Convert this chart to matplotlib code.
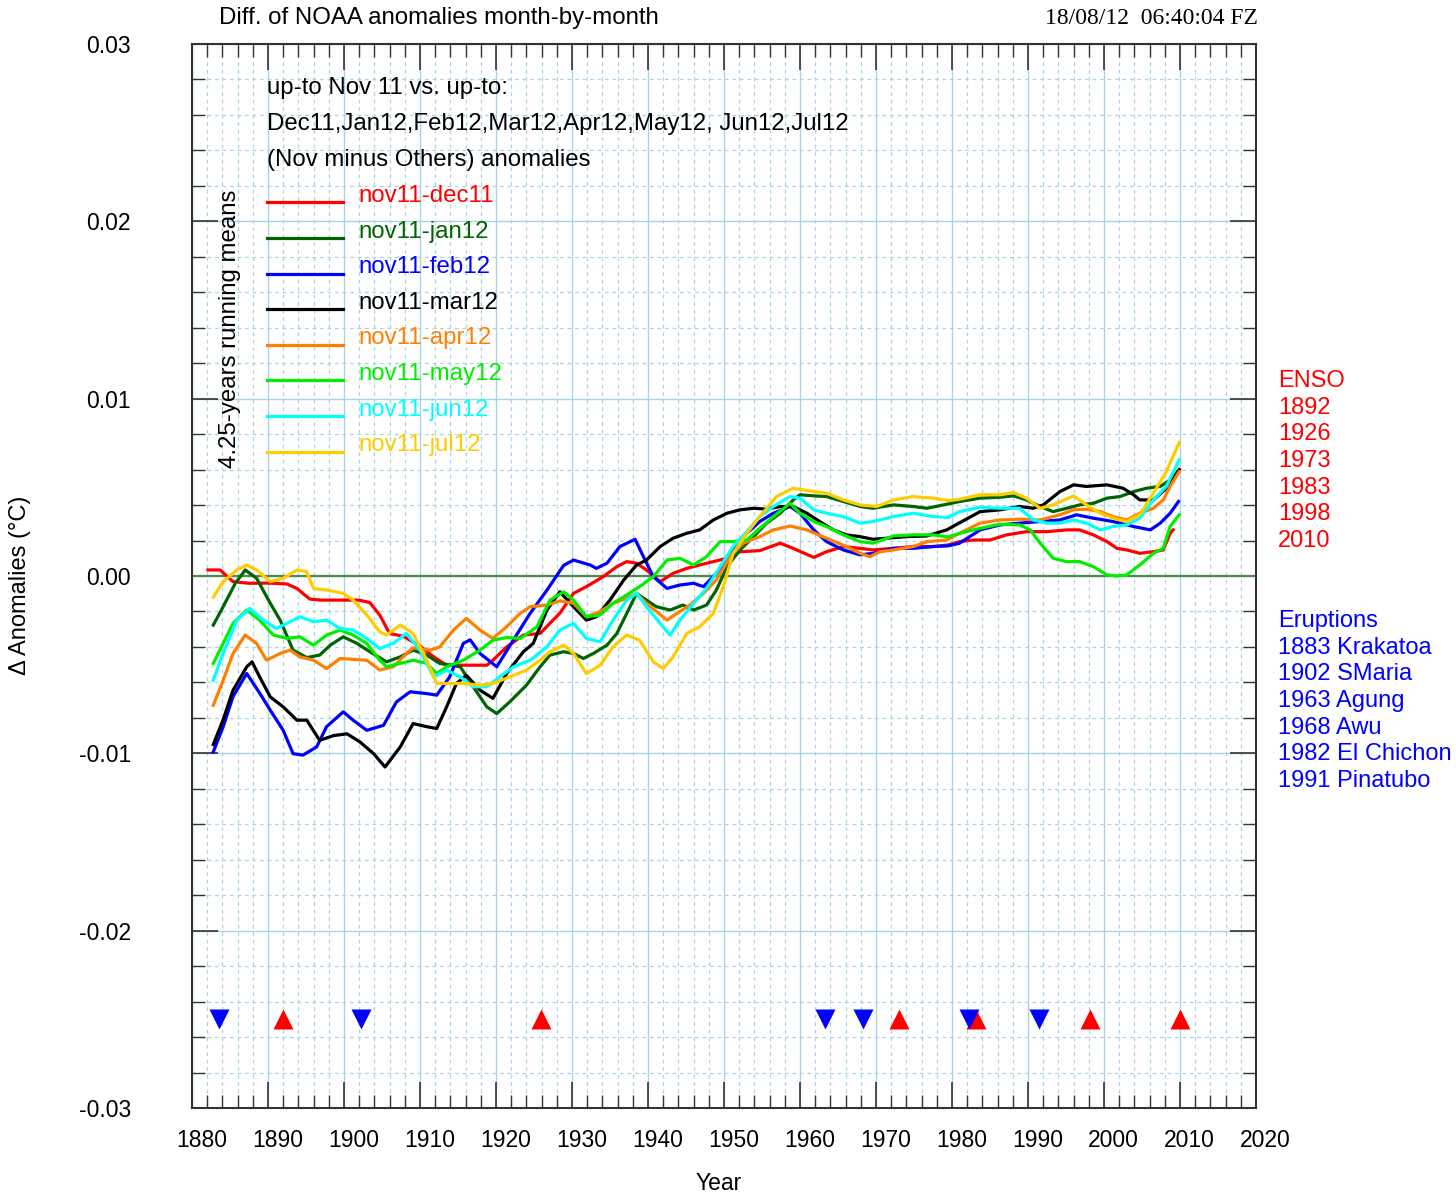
import numpy as np
import matplotlib
matplotlib.use('Agg')
import matplotlib.pyplot as plt
import matplotlib.transforms as mtransforms
from matplotlib.ticker import MultipleLocator

plt.rcParams['font.family'] = ['Liberation Sans', 'DejaVu Sans']

# values, in units of 0.001 degC
dec11_yr = [1882.1, 1883.7, 1885.4, 1887.5, 1890.0, 1892.5, 1893.8, 1895.5, 1897.0, 1902.0, 1903.4, 1904.7,
            1906.0, 1907.8, 1910.0, 1911.8, 1913.5, 1918.8, 1919.6, 1921.4, 1923.6, 1925.8, 1927.5, 1928.4,
            1930.2, 1931.9, 1934.1, 1935.9, 1937.2, 1938.5, 1939.8, 1941.6, 1943.3, 1945.1, 1946.8, 1948.6,
            1950.4, 1952.1, 1954.7, 1957.4, 1959.1, 1961.8, 1963.5, 1965.7, 1967.9, 1969.6, 1972.3, 1974.9,
            1977.5, 1979.5, 1981.0, 1982.8, 1985.0, 1987.2, 1989.8, 1992.5, 1995.1, 1996.8, 1998.6, 2000.4,
            2001.7, 2003.0, 2004.7, 2006.5, 2007.8, 2008.7, 2009.1]
dec11_val = [0.34, 0.34, -0.32, -0.41, -0.40, -0.45, -0.7, -1.3, -1.36, -1.36, -1.5, -2.2,
             -3.24, -3.4, -3.95, -4.56, -5.03, -5.03, -4.75, -4.0, -3.33, -3.24, -2.49, -2.1,
             -0.98, -0.6, -0.04, 0.53, 0.81, 0.72, 0.34, -0.32, 0.15, 0.43, 0.62, 0.81,
             1.0, 1.37, 1.43, 1.85, 1.56, 1.05, 1.37, 1.66, 1.56, 1.47, 1.56, 1.66,
             1.66, 1.75, 1.94, 2.03, 2.03, 2.32, 2.5, 2.5, 2.6, 2.6, 2.32, 1.94,
             1.56, 1.47, 1.28, 1.37, 1.47, 2.41, 2.6]

jan12_yr = [1882.8, 1884.1, 1885.7, 1887.0, 1888.5, 1890.3, 1891.6, 1893.3, 1895.1, 1896.8, 1898.2, 1899.9,
            1901.7, 1903.4, 1905.6, 1907.4, 1909.1, 1910.9, 1912.6, 1915.3, 1917.0, 1918.8, 1920.1, 1921.8,
            1924.0, 1925.8, 1927.1, 1928.9, 1930.2, 1931.5, 1932.8, 1934.6, 1935.9, 1937.2, 1938.5, 1939.8,
            1941.1, 1942.9, 1944.6, 1946.0, 1947.7, 1949.0, 1950.4, 1952.1, 1953.9, 1955.6, 1957.4, 1959.1,
            1960.0, 1961.8, 1963.5, 1965.7, 1967.9, 1969.6, 1972.3, 1974.9, 1976.7, 1978.9, 1981.0, 1983.7,
            1986.3, 1988.1, 1989.8, 1991.6, 1993.3, 1995.1, 1996.8, 1998.6, 2000.4, 2002.1, 2003.9, 2005.6,
            2007.4, 2008.7, 2009.9]
jan12_val = [-2.77, -1.73, -0.41, 0.34, -0.13, -1.54, -2.49, -4.18, -4.6, -4.46, -3.9, -3.43,
             -3.8, -4.27, -4.84, -4.56, -4.18, -4.46, -4.93, -5.12, -6.25, -7.38, -7.76, -7.1,
             -6.16, -5.12, -4.46, -4.27, -4.37, -4.65, -4.37, -3.9, -3.24, -2.11, -0.98, -1.36,
             -1.73, -1.92, -1.64, -1.92, -1.64, -0.79, 0.53, 1.47, 2.22, 2.98, 3.54, 4.29,
             4.58, 4.52, 4.48, 4.2, 3.92, 3.82, 4.01, 3.92, 3.82, 4.01, 4.2, 4.39,
             4.44, 4.52, 4.29, 3.92, 3.63, 3.82, 4.01, 4.1, 4.39, 4.48, 4.76, 4.95,
             5.05, 5.42, 5.99]

feb12_yr = [1882.8, 1884.1, 1885.4, 1887.2, 1888.9, 1890.3, 1892.0, 1893.3, 1894.6, 1896.4, 1897.7, 1899.9,
            1901.2, 1903.0, 1905.2, 1906.9, 1908.7, 1910.9, 1912.2, 1913.9, 1915.7, 1916.6, 1917.9, 1920.1,
            1922.3, 1924.5, 1926.7, 1928.9, 1930.2, 1932.4, 1933.2, 1934.6, 1936.3, 1938.3, 1939.4, 1940.7,
            1942.5, 1944.2, 1946.0, 1947.3, 1949.0, 1950.8, 1953.0, 1954.7, 1956.5, 1958.7, 1960.0, 1961.8,
            1963.5, 1965.7, 1967.9, 1969.6, 1972.3, 1974.9, 1977.5, 1979.5, 1981.0, 1983.7, 1986.3, 1988.9,
            1991.6, 1994.2, 1996.4, 1998.6, 2001.2, 2003.9, 2006.1, 2007.4, 2008.7, 2009.8]
feb12_val = [-9.92, -8.5, -6.8, -5.5, -6.6, -7.57, -8.7, -10.02, -10.1, -9.64, -8.5, -7.66,
             -8.13, -8.7, -8.42, -7.1, -6.53, -6.63, -6.72, -5.69, -3.8, -3.6, -4.37, -5.12,
             -3.6, -2.1, -0.8, 0.6, 0.9, 0.62, 0.43, 0.72, 1.66, 2.07, 1.09, -0.04,
             -0.7, -0.51, -0.41, -0.6, 0.15, 1.19, 2.41, 3.07, 3.54, 3.92, 3.54, 2.6,
             1.94, 1.47, 1.19, 1.28, 1.56, 1.56, 1.66, 1.7, 1.85, 2.6, 2.88, 2.98,
             3.07, 3.16, 3.45, 3.26, 3.07, 2.79, 2.6, 2.98, 3.54, 4.2]

mar12_yr = [1882.8, 1884.1, 1885.4, 1887.2, 1887.9, 1888.9, 1890.3, 1892.0, 1893.8, 1895.1, 1896.8, 1898.6,
            1900.4, 1902.1, 1903.9, 1905.4, 1907.4, 1909.1, 1910.9, 1912.2, 1913.5, 1914.8, 1916.1, 1917.9,
            1919.6, 1921.4, 1923.6, 1924.9, 1926.7, 1928.4, 1930.2, 1931.9, 1933.2, 1935.0, 1936.8, 1938.5,
            1939.8, 1941.6, 1943.3, 1945.1, 1946.8, 1948.6, 1950.4, 1952.1, 1953.9, 1955.6, 1957.4, 1959.1,
            1960.9, 1962.6, 1964.4, 1966.1, 1967.9, 1969.6, 1971.4, 1974.0, 1976.7, 1979.3, 1981.0, 1983.7,
            1986.3, 1988.9, 1990.7, 1992.0, 1994.2, 1996.0, 1997.7, 2000.4, 2002.5, 2003.9, 2004.7, 2006.5,
            2008.2, 2009.9]
mar12_val = [-9.5, -8.1, -6.44, -5.12, -4.84, -5.69, -6.82, -7.38, -8.13, -8.13, -9.27, -9.0,
             -8.9, -9.36, -10.02, -10.77, -9.64, -8.32, -8.5, -8.6, -7.38, -6.06, -5.6, -6.44,
             -6.9, -5.5, -4.27, -3.8, -1.92, -0.89, -1.73, -2.49, -2.3, -1.36, -0.23, 0.62,
             0.9, 1.66, 2.13, 2.41, 2.6, 3.16, 3.54, 3.73, 3.82, 3.77, 3.92, 3.92,
             3.54, 3.07, 2.6, 2.32, 2.22, 2.07, 2.13, 2.22, 2.26, 2.6, 3.0, 3.63,
             3.73, 3.92, 3.82, 4.01, 4.76, 5.14, 5.05, 5.14, 4.95, 4.58, 4.29, 4.29,
             4.95, 5.99]

apr12_yr = [1882.8, 1884.1, 1885.4, 1887.0, 1888.5, 1889.8, 1891.6, 1892.9, 1894.2, 1896.0, 1897.7, 1899.5,
            1901.2, 1903.0, 1904.7, 1906.5, 1908.2, 1909.1, 1911.3, 1912.6, 1914.4, 1916.1, 1917.9, 1919.6,
            1921.4, 1923.2, 1924.5, 1926.7, 1928.4, 1930.2, 1931.9, 1933.7, 1935.4, 1937.2, 1938.5, 1939.8,
            1941.1, 1942.5, 1943.8, 1945.5, 1947.3, 1949.0, 1950.8, 1952.5, 1954.7, 1956.5, 1958.7, 1960.9,
            1963.5, 1966.1, 1967.9, 1969.2, 1970.5, 1972.3, 1974.9, 1976.7, 1979.3, 1981.0, 1983.7, 1986.3,
            1988.9, 1991.6, 1994.2, 1996.0, 1997.7, 1999.5, 2001.2, 2003.0, 2004.7, 2006.5, 2007.8, 2008.7,
            2009.9]
apr12_val = [-7.29, -5.88, -4.37, -3.33, -3.8, -4.75, -4.37, -4.18, -4.56, -4.75, -5.22, -4.65,
             -4.7, -4.75, -5.3, -5.12, -4.37, -4.05, -4.18, -4.0, -3.05, -2.39, -3.05, -3.52,
             -2.86, -2.1, -1.73, -1.64, -1.4, -1.54, -2.3, -2.0, -1.54, -1.26, -0.98, -1.54,
             -2.0, -2.49, -2.11, -1.64, -0.98, -0.23, 1.09, 1.85, 2.22, 2.6, 2.82, 2.6,
             2.13, 1.66, 1.28, 1.09, 1.37, 1.47, 1.66, 1.94, 2.03, 2.41, 2.98, 3.16,
             3.2, 3.16, 3.45, 3.73, 3.77, 3.63, 3.35, 3.16, 3.54, 3.82, 4.29, 5.05,
             5.89]

may12_yr = [1882.8, 1884.1, 1885.4, 1887.2, 1888.9, 1890.7, 1892.5, 1894.2, 1896.0, 1897.7, 1899.5, 1901.2,
            1903.0, 1904.7, 1905.6, 1907.4, 1909.1, 1910.9, 1912.2, 1913.5, 1915.7, 1917.9, 1919.6, 1921.4,
            1923.2, 1925.4, 1927.1, 1928.9, 1930.2, 1931.9, 1933.7, 1935.4, 1937.2, 1938.9, 1940.7, 1942.5,
            1944.2, 1946.0, 1947.7, 1949.5, 1951.2, 1953.0, 1954.7, 1956.5, 1958.7, 1960.0, 1961.8, 1963.5,
            1965.7, 1967.9, 1969.6, 1972.3, 1974.9, 1977.5, 1979.5, 1981.0, 1983.7, 1986.3, 1988.9, 1990.3,
            1991.6, 1993.3, 1995.1, 1996.8, 1998.6, 2000.4, 2001.7, 2003.0, 2004.7, 2006.5, 2007.8, 2008.7,
            2009.9]
may12_val = [-4.93, -3.8, -2.67, -1.92, -2.49, -3.33, -3.52, -3.43, -3.9, -3.33, -3.05, -3.33,
             -3.8, -4.75, -5.12, -4.93, -4.75, -4.93, -5.5, -5.12, -4.75, -4.18, -3.62, -3.47,
             -3.52, -2.86, -1.36, -0.89, -1.36, -2.3, -2.2, -1.54, -1.07, -0.6, -0.04, 0.9,
             1.0, 0.62, 1.09, 1.94, 1.94, 2.03, 2.69, 3.35, 4.1, 3.54, 3.07, 2.79,
             2.32, 1.94, 1.85, 2.26, 2.32, 2.32, 2.2, 2.41, 2.69, 2.92, 2.88, 2.6,
             1.85, 1.0, 0.81, 0.81, 0.53, 0.06, 0.0, 0.06, 0.62, 1.28, 1.56, 2.79,
             3.45]

jun12_yr = [1882.8, 1884.1, 1885.9, 1887.6, 1889.4, 1891.1, 1892.5, 1894.2, 1896.0, 1897.7, 1899.5, 1901.2,
            1903.0, 1904.7, 1906.5, 1908.2, 1910.0, 1911.8, 1913.5, 1915.3, 1917.0, 1918.8, 1920.5, 1922.3,
            1924.5, 1926.7, 1928.4, 1930.2, 1931.9, 1933.7, 1935.4, 1937.2, 1938.5, 1939.8, 1941.6, 1942.9,
            1944.2, 1946.0, 1947.7, 1949.5, 1951.2, 1953.0, 1954.7, 1956.5, 1958.7, 1960.0, 1961.8, 1963.5,
            1965.7, 1967.9, 1969.6, 1972.3, 1974.9, 1977.5, 1979.5, 1981.0, 1983.7, 1986.3, 1988.9, 1990.7,
            1992.5, 1994.2, 1996.0, 1997.7, 1999.5, 2001.2, 2003.0, 2004.7, 2006.5, 2008.2, 2009.9]
jun12_val = [-5.88, -4.37, -2.49, -1.83, -2.49, -2.96, -2.67, -2.3, -2.58, -2.49, -2.96, -3.05,
             -3.52, -4.09, -3.8, -3.24, -4.18, -5.69, -5.31, -5.69, -6.25, -6.25, -5.69, -5.12,
             -4.75, -4.0, -3.05, -2.67, -3.52, -3.71, -2.49, -1.36, -0.98, -1.73, -2.67, -3.33,
             -2.49, -1.54, -0.7, 0.53, 1.66, 2.5, 3.35, 3.92, 4.48, 4.39, 3.73, 3.54,
             3.35, 2.98, 3.07, 3.35, 3.54, 3.35, 3.3, 3.63, 3.88, 3.82, 3.82, 3.16,
             2.98, 2.98, 3.16, 2.98, 2.6, 2.79, 2.88, 3.26, 4.29, 5.05, 6.55]

jul12_yr = [1882.8, 1884.1, 1885.9, 1887.2, 1888.5, 1890.3, 1892.0, 1893.8, 1895.1, 1896.0, 1897.7, 1899.9,
            1901.2, 1903.0, 1904.7, 1905.6, 1907.4, 1909.1, 1910.9, 1912.2, 1915.7, 1917.9, 1919.6, 1921.8,
            1924.0, 1925.8, 1927.1, 1928.9, 1930.2, 1931.9, 1933.7, 1935.4, 1937.2, 1938.9, 1940.7, 1942.0,
            1943.3, 1945.1, 1946.8, 1948.6, 1949.9, 1951.2, 1953.0, 1954.7, 1956.9, 1959.1, 1961.8, 1963.5,
            1965.7, 1967.9, 1970.1, 1972.3, 1974.9, 1977.5, 1979.5, 1981.0, 1983.7, 1986.3, 1988.1, 1989.8,
            1991.6, 1993.3, 1996.0, 1997.7, 1999.5, 2001.2, 2003.0, 2004.7, 2006.5, 2008.2, 2009.9]
jul12_val = [-1.2, -0.32, 0.34, 0.62, 0.34, -0.32, -0.13, 0.34, 0.24, -0.7, -0.79, -0.98,
             -1.36, -2.2, -3.14, -3.33, -2.77, -3.24, -4.75, -6.06, -6.06, -6.16, -6.06, -5.69,
             -5.31, -4.75, -4.27, -3.9, -4.37, -5.5, -5.03, -3.99, -3.33, -3.62, -4.84, -5.22,
             -4.56, -3.24, -2.86, -2.11, -0.6, 1.28, 2.41, 3.35, 4.48, 4.95, 4.76, 4.67,
             4.29, 4.01, 3.92, 4.29, 4.48, 4.39, 4.25, 4.33, 4.58, 4.58, 4.71, 4.39,
             3.82, 4.01, 4.52, 4.01, 3.54, 3.26, 3.07, 3.45, 4.67, 5.89, 7.53]

series_names = ['nov11-dec11', 'nov11-jan12', 'nov11-feb12', 'nov11-mar12',
                'nov11-apr12', 'nov11-may12', 'nov11-jun12', 'nov11-jul12']
series_years = [dec11_yr, jan12_yr, feb12_yr, mar12_yr, apr12_yr, may12_yr, jun12_yr, jul12_yr]
series_vals = [dec11_val, jan12_val, feb12_val, mar12_val, apr12_val, may12_val, jun12_val, jul12_val]
colors = ['#ff0000', '#006400', '#0000ff', '#000000', '#ff8000', '#00ee00', '#00ffff', '#ffcc00']

enso_years = [1892.0, 1925.9, 1973.0, 1983.1, 1998.2, 2010.0]
eruption_years = [1883.5, 1902.3, 1963.3, 1968.3, 1982.2, 1991.4]
event_level = -0.025

enso_labels = ['ENSO', '1892', '1926', '1973', '1983', '1998', '2010']
eruption_labels = ['Eruptions', '1883 Krakatoa', '1902 SMaria', '1963 Agung', '1968 Awu',
                   '1982 El Chichon', '1991 Pinatubo']

W, H = 1456, 1198
fig = plt.figure(figsize=(W / 100, H / 100), dpi=100)
ax = fig.add_axes([192 / W, 1 - 1108 / H, 1064 / W, 1064 / H])

ax.set_xlim(1880, 2020)
ax.set_ylim(-0.03, 0.03)
ax.xaxis.set_major_locator(MultipleLocator(10))
ax.xaxis.set_minor_locator(MultipleLocator(2))
ax.yaxis.set_major_locator(MultipleLocator(0.01))
ax.yaxis.set_minor_locator(MultipleLocator(0.002))
ax.yaxis.set_major_formatter(plt.FormatStrFormatter('%.2f'))

grid_col = '#a9d4e4'
ax.grid(which='major', color=grid_col, lw=1.0, ls='-')
ax.grid(which='minor', color=grid_col, lw=0.9, ls=(0, (3, 3)))
ax.set_axisbelow(True)

ax.tick_params(which='both', direction='in', top=True, right=True, colors='#333333',
               labelcolor='black', labelsize=16.5)
ax.tick_params(which='major', length=19, width=1.2)
ax.tick_params(which='minor', length=9.5, width=1.0)
ax.tick_params(axis='y', which='major', pad=44)
ax.tick_params(axis='x', which='major', pad=15)
for lab in ax.get_xticklabels():
    lab.set_transform(lab.get_transform() + mtransforms.ScaledTranslation(0.095, 0, fig.dpi_scale_trans))
for sp in ax.spines.values():
    sp.set_color('#333333')
    sp.set_linewidth(1.5)

ax.axhline(0, color='#4d8a4d', lw=1.6, zorder=2)

for yrs, vals, col in zip(series_years, series_vals, colors):
    ax.plot(yrs, np.array(vals) * 1e-3, color=col, lw=2.3, zorder=3)

ax.plot(enso_years, [event_level] * len(enso_years), ls='none', marker='^',
        ms=15, color='#ff0000', mec='none', zorder=4)
ax.plot(eruption_years, [event_level] * len(eruption_years), ls='none', marker='v',
        ms=15, color='#0000ff', mec='none', zorder=5)

# text block and legend inside the axes
tfs = 17.3
header = ['up-to Nov 11 vs. up-to:',
          'Dec11,Jan12,Feb12,Mar12,Apr12,May12, Jun12,Jul12',
          '(Nov minus Others) anomalies']
for i, line in enumerate(header):
    ax.text(0.0705, (1108 - (88 + i * 36)) / 1064, line, transform=ax.transAxes,
            fontsize=tfs, va='center', ha='left')
for i, (name, col) in enumerate(zip(series_names, colors)):
    yc = (1108 - (196 + i * 35.6)) / 1064
    ax.plot([0.0705, 0.142], [yc - 0.006, yc - 0.006], color=col, lw=2.3, transform=ax.transAxes)
    ax.text(0.156, yc, name, color=col, transform=ax.transAxes, fontsize=tfs, va='center', ha='left')
ax.text(0.0357, (1108 - 329) / 1064, '4.25-years running means', rotation=90,
        transform=ax.transAxes, fontsize=tfs, va='center', ha='center')

# figure texts
fig.text(219 / W, 1 - 18 / H, 'Diff. of NOAA anomalies month-by-month', fontsize=17.3, va='center')
fig.text(1258 / W, 1 - 18 / H, '18/08/12  06:40:04 FZ', fontsize=17, va='center', ha='right',
         family='Liberation Serif')
fig.text(20 / W, 1 - 585 / H, '\u0394 Anomalies (\u00b0C)', fontsize=17, rotation=90,
         va='center', ha='center')
fig.text(719 / W, 1 - 1183 / H, 'Year', fontsize=16.5, va='center', ha='center')

for i, lab in enumerate(enso_labels):
    fig.text(1278 / W, 1 - (381 + i * 26.7) / H, lab, color='#ff0000', fontsize=17, va='center')
for i, lab in enumerate(eruption_labels):
    fig.text(1278 / W, 1 - (621 + i * 26.7) / H, lab, color='#0000ff', fontsize=17, va='center')

fig.savefig('out.png', dpi=100)
